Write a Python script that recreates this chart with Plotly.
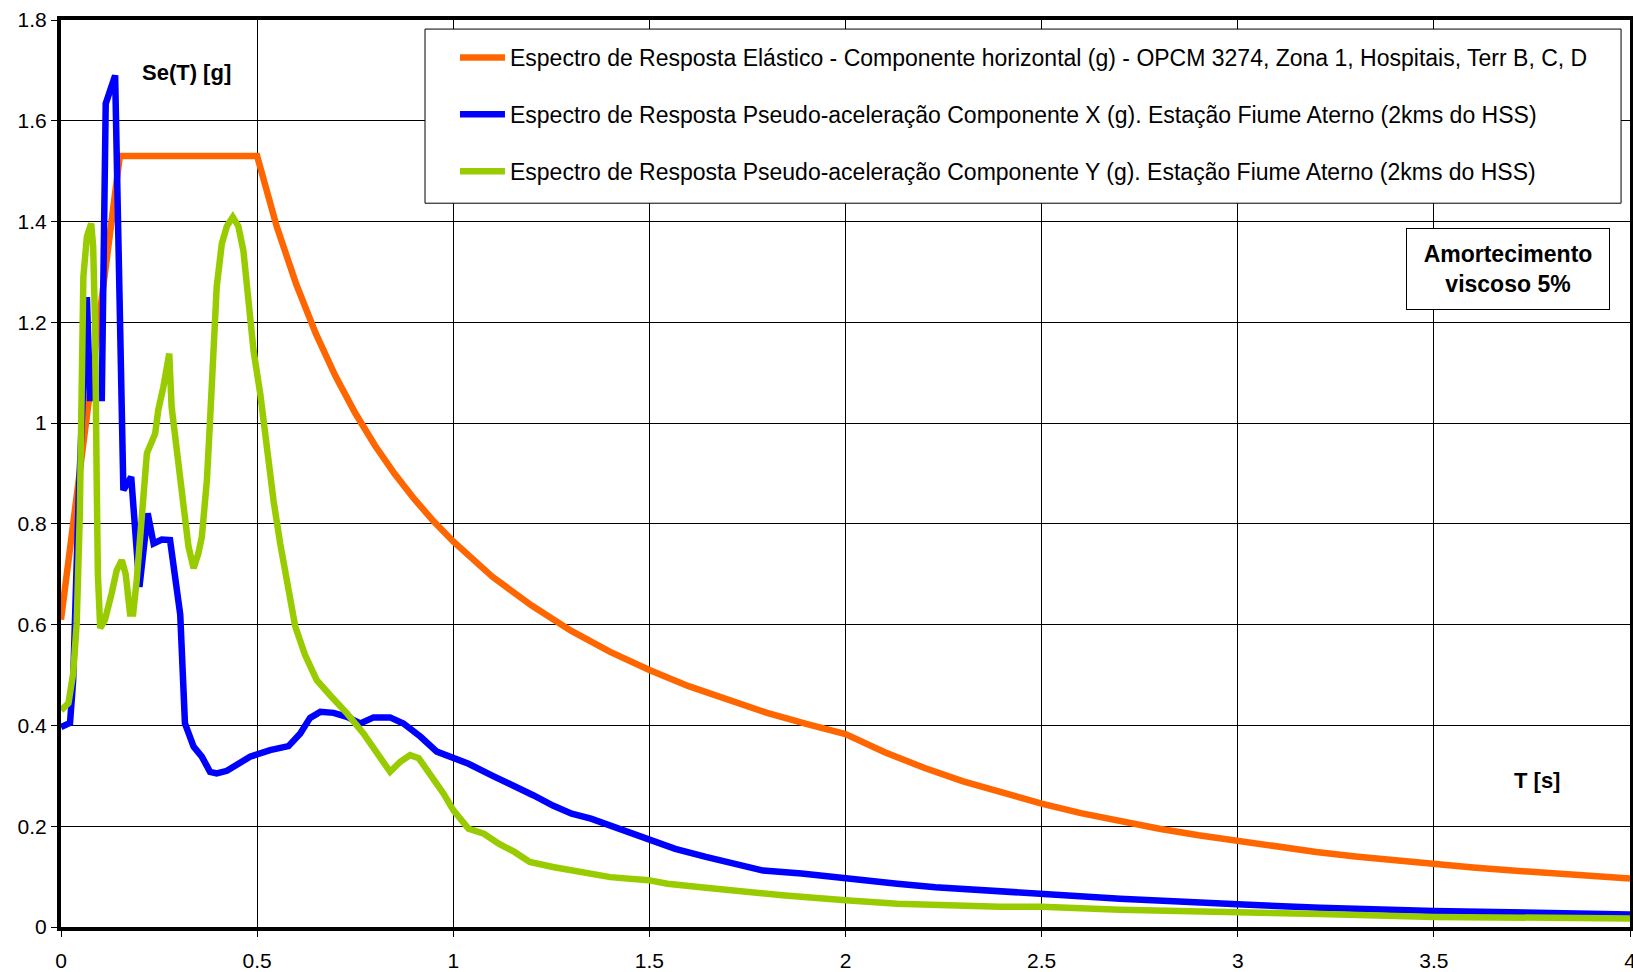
import plotly.graph_objects as go

# ---- data ----
T_orange = [0.0, 0.15, 0.5, 0.55, 0.6, 0.65, 0.7, 0.75, 0.8, 0.85, 0.9, 0.95, 1.0,
            1.1, 1.2, 1.3, 1.4, 1.5, 1.6, 1.7, 1.8, 1.9, 2.0, 2.1, 2.2, 2.3, 2.4, 2.5,
            2.6, 2.7, 2.8, 2.9, 3.0, 3.1, 3.2, 3.3, 3.4, 3.5, 3.6, 3.7, 3.8, 3.9, 4.0]
Se_orange = [0.61, 1.53, 1.53, 1.39, 1.275, 1.177, 1.093, 1.02, 0.956, 0.9, 0.85, 0.805, 0.765,
             0.695, 0.638, 0.588, 0.546, 0.51, 0.478, 0.45, 0.425, 0.403, 0.383, 0.347, 0.316,
             0.289, 0.266, 0.245, 0.226, 0.21, 0.195, 0.182, 0.17, 0.159, 0.149, 0.14, 0.132,
             0.125, 0.118, 0.112, 0.106, 0.101, 0.096]

T_blue = [0.0, 0.023, 0.031, 0.045, 0.066, 0.074, 0.104, 0.114, 0.138, 0.159, 0.179, 0.2,
          0.221, 0.236, 0.257, 0.278, 0.304, 0.316, 0.338, 0.359, 0.38, 0.397, 0.423, 0.482,
          0.533, 0.58, 0.61, 0.635, 0.661, 0.695, 0.729, 0.763, 0.797, 0.839, 0.873, 0.916,
          0.958, 1.039, 1.098, 1.156, 1.205, 1.254, 1.302, 1.351, 1.429, 1.498, 1.566, 1.644,
          1.712, 1.79, 1.888, 2.0, 2.132, 2.229, 2.393, 2.5, 2.7, 3.0, 3.21, 3.5, 3.72, 4.0]
Se_blue = [0.397, 0.405, 0.49, 0.85, 1.25, 1.05, 1.05, 1.634, 1.69, 0.867, 0.893, 0.675,
           0.821, 0.761, 0.769, 0.768, 0.62, 0.404, 0.358, 0.338, 0.308, 0.305, 0.31, 0.338,
           0.351, 0.359, 0.384, 0.415, 0.427, 0.425, 0.417, 0.404, 0.416, 0.416, 0.404, 0.378,
           0.348, 0.324, 0.301, 0.281, 0.261, 0.241, 0.225, 0.215, 0.192, 0.172, 0.155, 0.139,
           0.126, 0.112, 0.106, 0.096, 0.086, 0.079, 0.071, 0.066, 0.056, 0.045, 0.038, 0.032,
           0.028, 0.025]

T_green = [0.0, 0.019, 0.031, 0.04, 0.048, 0.053, 0.057, 0.066, 0.077, 0.082, 0.087, 0.091,
           0.094, 0.1, 0.112, 0.129, 0.142, 0.155, 0.165, 0.176, 0.184, 0.193, 0.206, 0.219,
           0.24, 0.248, 0.261, 0.276, 0.282, 0.299, 0.312, 0.325, 0.338, 0.35, 0.359, 0.372,
           0.38, 0.389, 0.397, 0.41, 0.423, 0.438, 0.452, 0.465, 0.478, 0.491, 0.508, 0.525,
           0.542, 0.559, 0.576, 0.597, 0.622, 0.652, 0.686, 0.729, 0.771, 0.805, 0.839, 0.865,
           0.89, 0.912, 0.941, 0.975, 1.0, 1.039, 1.078, 1.117, 1.156, 1.195, 1.254, 1.302,
           1.4, 1.498, 1.546, 1.644, 1.741, 1.839, 2.0, 2.132, 2.393, 2.5, 2.7, 3.0, 3.21,
           3.5, 4.0]
Se_green = [0.43, 0.444, 0.503, 0.602, 0.82, 1.02, 1.29, 1.37, 1.396, 1.35, 1.19, 0.887,
            0.70, 0.593, 0.609, 0.662, 0.708, 0.728, 0.70, 0.622, 0.622, 0.688, 0.808, 0.94,
            0.979, 1.026, 1.072, 1.138, 1.032, 0.92, 0.82, 0.755, 0.712, 0.741, 0.774, 0.887,
            1.006, 1.129, 1.271, 1.356, 1.391, 1.409, 1.391, 1.342, 1.235, 1.143, 1.058, 0.945,
            0.845, 0.76, 0.689, 0.597, 0.54, 0.49, 0.46, 0.424, 0.384, 0.344, 0.308, 0.328,
            0.341, 0.335, 0.305, 0.265, 0.232, 0.195, 0.185, 0.165, 0.149, 0.129, 0.119, 0.112,
            0.099, 0.093, 0.086, 0.078, 0.069, 0.063, 0.053, 0.046, 0.04, 0.04, 0.034, 0.03,
            0.026, 0.02, 0.017]

names = [
    "Espectro de Resposta Elástico - Componente horizontal (g) - OPCM 3274, Zona 1, Hospitais, Terr B, C, D",
    "Espectro de Resposta Pseudo-aceleração Componente X (g). Estação Fiume Aterno (2kms do HSS)",
    "Espectro de Resposta Pseudo-aceleração Componente Y (g). Estação Fiume Aterno (2kms do HSS)",
]
colors = ["#FF6600", "#0000FF", "#99CC00"]

x_ticks = [0, 0.5, 1, 1.5, 2, 2.5, 3, 3.5, 4]
y_ticks = [0, 0.2, 0.4, 0.6, 0.8, 1.0, 1.2, 1.4, 1.6, 1.8]

FONT = "Arial, 'Liberation Sans', sans-serif"

fig = go.Figure()
for i, (xs, ys) in enumerate([(T_orange, Se_orange), (T_blue, Se_blue), (T_green, Se_green)]):
    fig.add_trace(go.Scatter(x=xs, y=ys, mode="lines", name=names[i],
                             line=dict(color=colors[i], width=6.5),
                             legendgroup=f"g{i}"))

axis_common = dict(showline=True, linecolor="black", linewidth=4, mirror=True,
                   showgrid=True, gridcolor="black", gridwidth=1,
                   ticks="outside", ticklen=6, tickcolor="black", tickwidth=1,
                   tickfont=dict(family=FONT, size=21, color="black"),
                   zeroline=False, automargin=False, ticklabeloverflow="allow")

fig.update_xaxes(range=[0, 4], tickvals=x_ticks, ticklabelstandoff=6, **axis_common)
fig.update_yaxes(range=[0, 1.8], tickvals=y_ticks, ticklabelstandoff=0, **axis_common)

# legend box
fig.add_shape(type="rect", xref="paper", yref="paper", x0=0.232, x1=0.9943, y0=0.798, y1=0.990,
              line=dict(color="black", width=1), fillcolor="white", layer="above")

fig.add_annotation(x=0.321, y=1.696, text="<b>Se(T) [g]</b>", showarrow=False,
                   font=dict(family=FONT, size=22, color="black"))
fig.add_annotation(x=3.763, y=0.29, text="<b>T [s]</b>", showarrow=False,
                   font=dict(family=FONT, size=22, color="black"))
fig.add_annotation(x=3.69, y=1.305, text="<b>Amortecimento<br>viscoso 5%</b>", showarrow=False,
                   font=dict(family=FONT, size=23, color="black"),
                   bgcolor="white", bordercolor="black", borderwidth=1,
                   width=200, height=78, borderpad=1)

fig.update_layout(
    width=1633, height=972,
    margin=dict(l=61, r=3, t=20, b=45),
    paper_bgcolor="white", plot_bgcolor="white",
    font=dict(family=FONT, size=20, color="black"),
    showlegend=True,
    legend=dict(x=0.2511, y=0.9824, xanchor="left", yanchor="top",
                bgcolor="rgba(0,0,0,0)", borderwidth=0,
                font=dict(family=FONT, size=23, color="black"),
                traceorder="grouped", tracegroupgap=24, itemwidth=45),
)

fig.write_html("out.html", config={"displayModeBar": False},
               post_script="document.body.style.margin='0';")
